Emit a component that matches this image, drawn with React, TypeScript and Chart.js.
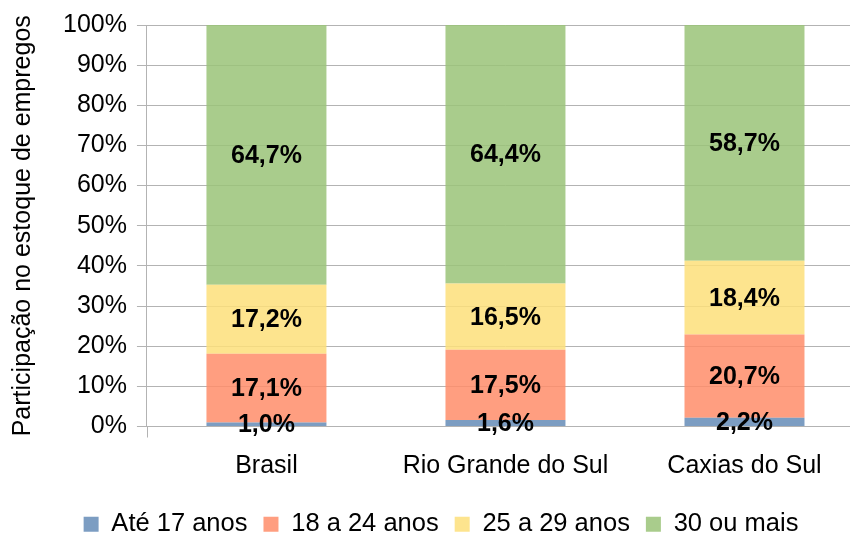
import React, { useEffect, useRef } from "react";
import { Chart, registerables } from "chart.js";

Chart.register(...registerables);

const categories = ["Brasil", "Rio Grande do Sul", "Caxias do Sul"];
const seriesNames = ["Até 17 anos", "18 a 24 anos", "25 a 29 anos", "30 ou mais"];
const ate17 = [1.0, 1.6, 2.2];
const de18a24 = [17.1, 17.5, 20.7];
const de25a29 = [17.2, 16.5, 18.4];
const mais30 = [64.7, 64.4, 58.7];
const colors = [
  "rgba(101,140,183,0.85)",
  "rgba(255,141,106,0.85)",
  "rgba(253,223,122,0.85)",
  "rgba(154,195,120,0.85)",
];

const FAMILY = "'Liberation Sans', Arial, sans-serif";
const fmt = (v: number) => v.toFixed(1).replace(".", ",") + "%";

const labelPlugin = {
  id: "segLabels",
  afterLayout(chart: any) {
    const l = chart.legend;
    if (l) {
      l.left += 5;
      l.right += 5;
    }
  },
  afterDatasetsDraw(chart: any) {
    const ctx = chart.ctx;
    ctx.save();
    const a = chart.chartArea;
    ctx.strokeStyle = "#b3b3b3";
    ctx.lineWidth = 1;
    ctx.beginPath();
    ctx.moveTo(Math.round(a.left) + 0.5, a.bottom);
    ctx.lineTo(Math.round(a.left) + 0.5, a.bottom + 11);
    ctx.stroke();
    ctx.font = "bold 25px " + FAMILY;
    ctx.fillStyle = "#000";
    ctx.textAlign = "center";
    ctx.textBaseline = "middle";
    chart.data.datasets.forEach((ds: any, i: number) => {
      const meta = chart.getDatasetMeta(i);
      meta.data.forEach((el: any, j: number) => {
        const y = (el.y + el.base) / 2;
        ctx.fillText(fmt(ds.data[j]), el.x, y + 1);
      });
    });
    ctx.restore();
  },
};

export default function App() {
  const ref = useRef<HTMLCanvasElement>(null);
  useEffect(() => {
    document.body.style.margin = "0";
    const data = [ate17, de18a24, de25a29, mais30];
    const chart = new Chart(ref.current!, {
      type: "bar",
      data: {
        labels: categories,
        datasets: seriesNames.map((n, i) => ({
          label: n,
          data: data[i],
          backgroundColor: colors[i],
          borderWidth: 0,
          categoryPercentage: 1,
          barPercentage: 0.502,
        })),
      },
      options: {
        animation: false,
        responsive: false,
        layout: { padding: { left: 8, right: 0, top: 11, bottom: -12 } },
        plugins: {
          legend: {
            position: "bottom",
            labels: {
              boxWidth: 15,
              boxHeight: 15,
              padding: 16,
              color: "#000",
              font: { size: 25.5, family: FAMILY },
            },
          },
          tooltip: { enabled: false },
        },
        scales: {
          x: {
            stacked: true,
            grid: { display: false },
            border: { display: false },
            afterFit: (scale: any) => {
              scale.height -= 3;
            },
            ticks: {
              color: "#000",
              padding: 17,
              font: { size: 25, family: FAMILY },
            },
          },
          y: {
            stacked: true,
            min: 0,
            max: 100,
            ticks: {
              stepSize: 10,
              color: "#000",
              padding: 10,
              callback: (v: any) => v + "%",
              font: { size: 25, family: FAMILY },
            },
            grid: { color: "#b3b3b3", tickLength: 10, lineWidth: 1 },
            border: { color: "#b3b3b3" },
            title: {
              display: true,
              text: "Participação no estoque de empregos",
              color: "#000",
              padding: { top: 0, bottom: 15 },
              font: { size: 25, family: FAMILY },
            },
          },
        },
      },
      plugins: [labelPlugin],
    });
    return () => chart.destroy();
  }, []);
  return (
    <div style={{ width: 850, height: 535, overflow: "hidden" }}>
      <canvas ref={ref} width={864} height={535} style={{ display: "block" }} />
    </div>
  );
}
